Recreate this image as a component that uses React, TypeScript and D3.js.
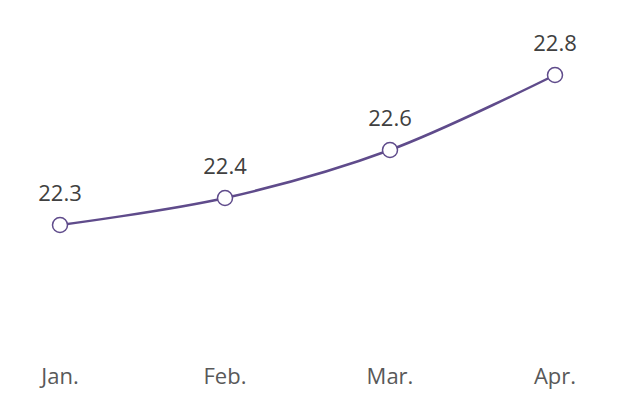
import React from "react";
import * as d3 from "d3";

const categories = ["Jan.", "Feb.", "Mar.", "Apr."];
const values = [22.3, 22.39, 22.55, 22.8];
const valueLabels = ["22.3", "22.4", "22.6", "22.8"];

const W = 631;
const H = 409;

export default function App() {
  const x = d3.scalePoint<string>().domain(categories).range([60, 555]);
  const y = d3.scaleLinear().domain([22, 23]).range([315, 15]);
  const pts: [number, number][] = values.map((v, i) => [x(categories[i])!, y(v)]);
  const line = d3.line().curve(d3.curveCatmullRom.alpha(0.5))(pts) || "";
  const font = "'Segoe UI', 'Open Sans', 'Noto Sans', sans-serif";
  return (
    <svg
      width={W}
      height={H}
      style={{ position: "absolute", left: 0, top: 0, background: "#fff" }}
    >
      <path d={line} fill="none" stroke="#5f4b8b" strokeWidth={2.5} />
      {pts.map((p, i) => (
        <circle key={i} cx={p[0]} cy={p[1]} r={7.5} fill="#fff" stroke="#5f4b8b" strokeWidth={1.5} />
      ))}
      {pts.map((p, i) => (
        <text
          key={"l" + i}
          x={p[0]}
          y={p[1] - 24}
          textAnchor="middle"
          fontFamily={font}
          fontSize={22}
          fill="#404040"
        >
          {valueLabels[i]}
        </text>
      ))}
      {categories.map((c) => (
        <text
          key={c}
          x={x(c)}
          y={384}
          textAnchor="middle"
          fontFamily={font}
          fontSize={22}
          fill="#595959"
        >
          {c}
        </text>
      ))}
    </svg>
  );
}
